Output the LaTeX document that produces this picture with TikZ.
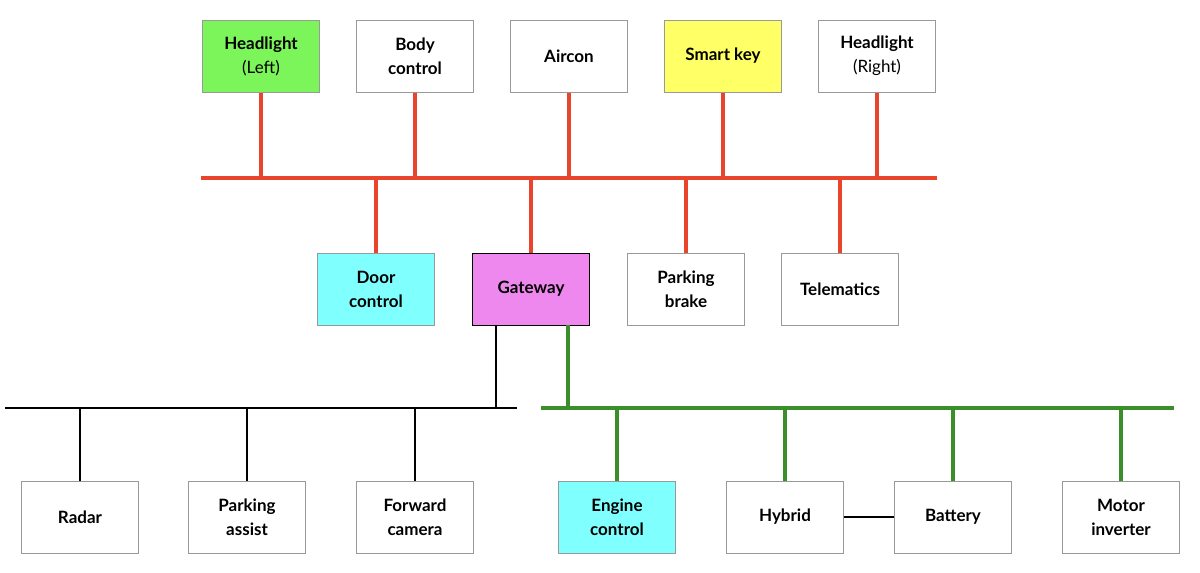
\documentclass[tikz,border=0pt]{standalone}
\usepackage{fontspec}
\setmainfont{Lato}
\begin{document}
\begin{tikzpicture}[x=1pt,y=-1pt,
 box/.style={draw=gray!80,line width=1pt,minimum width=117pt,minimum height=72pt,align=center,font=\fontsize{17}{24}\selectfont\bfseries,inner sep=0pt},
 red/.style={draw={rgb,255:red,232;green,69;blue,44},line width=3.5pt},
 grn/.style={draw={rgb,255:red,58;green,143;blue,42},line width=3.5pt},
 blk/.style={draw=black,line width=1.3pt}]
\useasboundingbox (0,0) rectangle (1200,573);
\definecolor{hl}{RGB}{124,245,90}
\definecolor{yk}{RGB}{255,255,102}
\definecolor{cy}{RGB}{128,255,255}
\definecolor{mg}{RGB}{238,136,238}
% top row
\node[box,fill=hl] (hl) at (261,56) {Headlight\\{\mdseries(Left)}};
\node[box] (bc) at (415,56) {Body\\control};
\node[box] (ac) at (569,56) {Aircon};
\node[box,fill=yk] (sk) at (723,56) {Smart key};
\node[box] (hr) at (877,56) {Headlight\\{\mdseries(Right)}};
% middle
\node[box,fill=cy] (dc) at (376,289) {Door\\control};
\node[box,fill=mg,draw=black] (gw) at (531,289) {Gateway};
\node[box] (pb) at (686,289) {Parking\\brake};
\node[box] (tm) at (840,289) {Telematics};
% bottom
\node[box] (rd) at (80,517) {Radar};
\node[box] (pa) at (247,517) {Parking\\assist};
\node[box] (fc) at (415,517) {Forward\\camera};
\node[box,fill=cy] (ec) at (617,517) {Engine\\control};
\node[box] (hy) at (785,517) {Hybrid};
\node[box] (bt) at (953,517) {Battery};
\node[box] (mi) at (1121,517) {Motor\\inverter};
% red bus
\coordinate (rL) at (201,178); \coordinate (rR) at (937,178);
\draw[red] (rL) -- (rR);
\foreach \n in {hl,bc,ac,sk,hr} \draw[red] (\n.south) -- (\n.south |- rL);
\draw[red] (dc.north) -- (dc.north |- rL);
\draw[red] (gw.north) -- (gw.north |- rL);
\draw[red] (pb.north) -- (pb.north |- rL);
\draw[red] (tm.north) -- (tm.north |- rL);
% black bus
\coordinate (bL) at (5,408); \coordinate (bR) at (517,408);
\coordinate (gb) at (496,325);
\draw[blk] (bL) -- (bR);
\draw[blk] (gb) -- (gb |- bL);
\foreach \n in {rd,pa,fc} \draw[blk] (\n.north) -- (\n.north |- bL);
% green bus
\coordinate (gL) at (541,408); \coordinate (gR) at (1174,408);
\coordinate (gg) at (568,325);
\draw[grn] (gL) -- (gR);
\draw[grn] (gg) -- (gg |- gL);
\foreach \n in {ec,hy,bt,mi} \draw[grn] (\n.north) -- (\n.north |- gL);
\draw[blk] (hy) -- (bt);
\end{tikzpicture}
\end{document}
